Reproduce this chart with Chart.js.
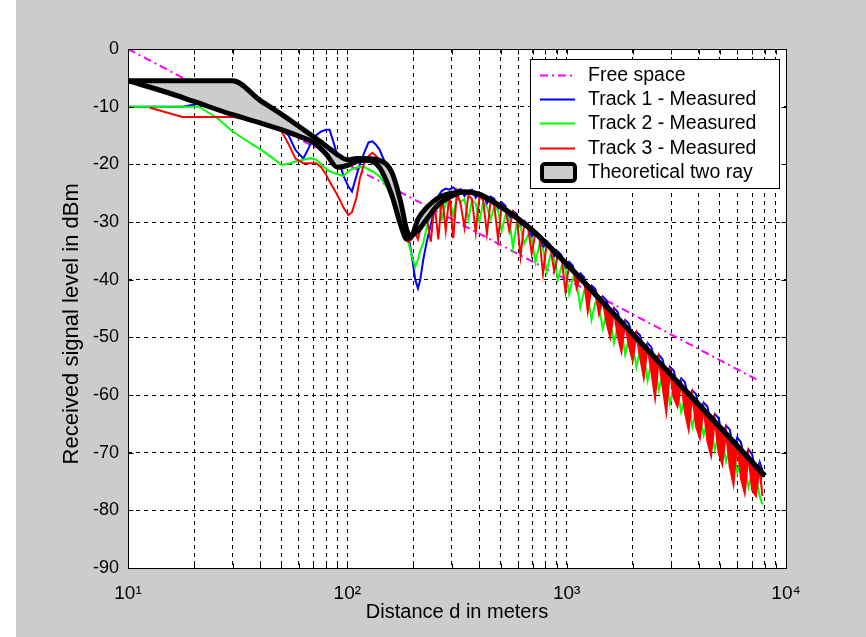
<!DOCTYPE html>
<html>
<head>
<meta charset="utf-8">
<script src="https://cdn.jsdelivr.net/npm/chart.js@4.4.1/dist/chart.umd.min.js"></script>
<style>
    html, body { margin: 0; padding: 0; background: #fff; }
    #wrap { position: absolute; left: 16px; top: 0; width: 850px; height: 637px; background: #cccccc; }
</style>
</head>
<body>
<div id="wrap"><canvas id="myChart" width="850" height="637"></canvas></div>
<script>
// axis ticks
const xTickValues = [10, 20, 30, 40, 50, 60, 70, 80, 90,
    100, 200, 300, 400, 500, 600, 700, 800, 900,
    1000, 2000, 3000, 4000, 5000, 6000, 7000, 8000, 9000, 10000];
const decadeValues = [10, 100, 1000, 10000];
const decadeLabels = ['10\u00b9', '10\u00b2', '10\u00b3', '10\u2074'];
const yTickValues = [0, -10, -20, -30, -40, -50, -60, -70, -80, -90];

// free space
const freeDist = [10, 7600];
const freeLevel = [0, -57.6];

// theoretical two ray (upper / lower edge of the band)
const theoryDist = [10, 15, 20, 30, 40, 50, 60, 70, 80, 90, 100, 110, 120, 140, 160, 175, 187, 195,
    210, 230, 260, 300, 340, 400, 500, 700, 1000, 1500, 2000, 3000, 5000, 8000];
const theoryUpper = [-5.5, -5.5, -5.5, -5.5, -8.9, -11.3, -13.4, -15.2, -16.8, -18.3, -19.2, -19.0, -19.0, -19.3, -21.5, -26.5, -31.5, -32.5,
    -29.5, -27.5, -25.8, -25.0, -24.8, -25.2, -27.3, -31.5, -37.3, -44.4, -49.4, -56.6, -65.6, -74.0];
const theoryLower = [-5.5, -7.5, -9.1, -11.4, -12.8, -14.0, -15.1, -16.2, -18.2, -20.5, -20.2, -19.5, -19.3, -20.5, -25.5, -30.5, -33.0, -32.5,
    -31.5, -29.5, -27.0, -25.5, -24.8, -25.2, -27.3, -31.5, -37.3, -44.4, -49.4, -56.6, -65.6, -74.0];

// measured tracks, short range (10 - 240 m)
const nearDist = [10, 12.6, 15, 17.7, 21, 25.6, 30, 35, 40.5, 46,
    50, 54, 58, 63, 68, 72, 76, 80, 83, 87,
    92, 96, 101, 105, 110, 114, 120, 125, 130, 135,
    140, 146, 152, 160, 170, 180, 190, 197, 204, 210,
    215, 222, 230, 240];
const track1Near = [-10, -10, -10, -10, -9.5, -10.5, -11.4, -12.1, -12.8, -13.5,
    -14, -15, -17.5, -19, -16.5, -15, -14.3, -14, -14, -16.5,
    -19.7, -22, -23.8, -24.7, -22, -20, -17.8, -16.2, -16, -16.6,
    -17.4, -19, -20.5, -22.3, -25.2, -28.5, -32.5, -36, -40, -41.5,
    -40, -36.5, -33.5, -30.5];
const track2Near = [-10, -10, -10, -10, -10, -12, -14.3, -16, -17.5, -19,
    -20.1, -19.9, -19.5, -19.2, -18.9, -19.2, -20, -20.8, -21.2, -21.5,
    -21.8, -22, -21.2, -20.8, -20.6, -20.4, -20.5, -20.9, -21.2, -21.6,
    -22.1, -23, -24, -25.3, -26.8, -29.5, -33.5, -36, -37.8, -36.5,
    -35, -33.6, -31, -28.5];
const track3Near = [null, -10.2, -11, -11.8, -11.8, -11.8, -11.8, -12.1, -12.8, -13.5,
    -14.2, -16.5, -19, -19.8, -19.8, -19.8, -20.5, -21.8, -23, -24.3,
    -26, -27.5, -28.8, -28.3, -25.8, -22.5, -19.5, -18.6, -18, -18.5,
    -19.2, -20.8, -22, -24, -27.3, -30.5, -33.4, -33, -31.8, -33,
    -31.3, -29.8, -29, -33.4];

// measured tracks 1 and 2, long range (240 m - 7.8 km)
const farDist = [240, 250, 260, 270, 281, 292, 304, 316, 329, 342, 356,
    370, 385, 400, 416, 433, 450, 468, 487, 506, 526,
    547, 569, 592, 616, 641, 667, 693, 721, 750, 780,
    811, 843, 877, 912, 949, 987, 1026, 1067, 1110, 1154,
    1200, 1248, 1298, 1350, 1404, 1460, 1519, 1580, 1643, 1709,
    1777, 1848, 1922, 1999, 2079, 2162, 2248, 2338, 2432, 2529,
    2630, 2735, 2845, 2958, 3077, 3200, 3328, 3461, 3599, 3743,
    3893, 4049, 4211, 4379, 4554, 4736, 4926, 5123, 5328, 5541,
    5762, 5993, 6233, 6482, 6741, 7011, 7291, 7583, 7800];
const track1Far = [-30.5, -27.5, -25.5, -24.6, -24.2, -24.4, -24.0, -24.5, -24.3, -25.5, -24.6,
    -24.4, -25.8, -24.9, -25.2, -26.8, -25.6, -26.0, -27.8, -26.6, -27.2,
    -29.5, -28.1, -28.6, -30.8, -29.8, -30.4, -32.6, -31.6, -32.2, -34.5,
    -33.3, -34.0, -36.0, -35.1, -35.8, -37.8, -36.9, -37.6, -39.8, -38.9,
    -39.6, -42.0, -41.0, -41.6, -43.8, -42.9, -43.6, -46.0, -44.9, -45.6,
    -48.2, -47.0, -47.6, -50.2, -49.0, -49.7, -52.3, -51.0, -51.7, -54.0,
    -53.0, -53.8, -56.5, -55.1, -55.8, -58.5, -57.1, -57.8, -60.6, -59.2,
    -59.9, -62.8, -61.3, -62.0, -65.0, -63.3, -64.0, -67.2, -65.3, -66.0,
    -69.5, -67.4, -68.2, -71.5, -69.4, -70.3, -73.8, -71.6, -73.0];
const track2Far = [-28.5, -28.0, -26.5, -29.5, -26.8, -26.0, -28.8, -25.8, -26.5, -26.0, -29.6,
    -26.2, -26.8, -30.0, -26.6, -27.4, -29.5, -27.3, -28.0, -31.5, -28.8,
    -29.4, -34.5, -30.2, -30.8, -33.8, -32.2, -32.9, -37.0, -34.0, -34.6,
    -38.6, -35.8, -36.4, -40.0, -37.6, -38.2, -42.5, -39.8, -40.6, -44.8,
    -42.0, -42.6, -47.0, -44.0, -44.6, -48.5, -46.0, -46.8, -51.0, -48.0,
    -48.8, -53.0, -50.2, -51.0, -55.2, -52.2, -53.0, -57.5, -54.3, -55.0,
    -59.2, -56.4, -57.2, -61.5, -58.5, -59.2, -63.0, -60.6, -61.4, -65.5,
    -62.7, -63.5, -67.0, -64.8, -65.6, -69.5, -67.0, -67.8, -71.5, -69.0,
    -69.8, -73.5, -71.2, -72.0, -76.0, -73.4, -74.2, -77.5, -79.0];

// measured track 3, mid range (240 m - 1 km) and long range (1 km - 7.8 km)
const midDist = [240, 250, 260, 270, 281, 292, 304, 316, 329, 342, 356,
    370, 385, 400, 416, 433, 450, 468, 487, 506, 526,
    547, 569, 592, 616, 641, 667, 693, 721, 750, 780,
    811, 843, 877, 912, 949, 987, 1026];
const track3Mid = [-33.4, -27.0, -33.0, -25.4, -31.5, -25.2, -32.8, -24.8, -27.0, -31.0, -25.4,
    -26.0, -31.8, -25.6, -26.2, -32.0, -26.4, -27.2, -33.0, -27.0, -27.8,
    -31.5, -28.2, -29.0, -36.0, -30.2, -31.0, -35.5, -31.8, -32.6, -39.0,
    -33.6, -34.4, -38.5, -35.8, -36.4, -42.0, -37.4];
const longDist = [1026, 1067, 1110, 1154,
    1200, 1248, 1298, 1350, 1404, 1460, 1519, 1580, 1643, 1709,
    1777, 1848, 1922, 1999, 2079, 2162, 2248, 2338, 2432, 2529,
    2630, 2735, 2845, 2958, 3077, 3200, 3328, 3461, 3599, 3743,
    3893, 4049, 4211, 4379, 4554, 4736, 4926, 5123, 5328, 5541,
    5762, 5993, 6233, 6482, 6741, 7011, 7291, 7583, 7800];
const track3Long = [-37.4, -38.0, -41.5, -39.4,
    -40.0, -45.5, -41.4, -42.2, -46.0, -43.5, -47.5, -50.0, -45.5, -49.8,
    -52.5, -47.6, -51.5, -54.0, -49.6, -53.5, -57.0, -51.7, -56.0, -60.5,
    -53.8, -58.5, -63.0, -55.9, -60.5, -62.0, -58.0, -63.0, -66.0, -60.1,
    -65.5, -67.5, -62.2, -68.0, -70.5, -64.3, -70.0, -72.0, -66.4, -72.5,
    -75.5, -68.5, -74.5, -77.0, -70.6, -76.5, -77.5, -72.7, -77.5];

const FONT = "'Liberation Sans', Arial, Helvetica, sans-serif";

function toPoints(xs, ys) {
    return xs.map(function (x, i) { return { x: x, y: ys[i] }; });
}

// white axes box, frame, inner tick marks and the boxed legend
const matlabFrame = {
    id: 'matlabFrame',
    beforeDraw: function (chart) {
        const ctx = chart.ctx, a = chart.chartArea;
        ctx.save();
        ctx.fillStyle = '#fff';
        ctx.fillRect(a.left, a.top, a.right - a.left, a.bottom - a.top);
        ctx.restore();
    },
    afterDatasetsDraw: function (chart) {
        const ctx = chart.ctx, a = chart.chartArea;
        const l = Math.round(a.left) + 0.5, r = Math.round(a.right) + 0.5;
        const t = Math.round(a.top) + 0.5, b = Math.round(a.bottom) + 0.5;
        ctx.save();
        ctx.strokeStyle = '#000';
        ctx.lineWidth = 1;
        ctx.beginPath();
        xTickValues.forEach(function (v) {
            const px = Math.round(chart.scales.x.getPixelForValue(v)) + 0.5;
            ctx.moveTo(px, t); ctx.lineTo(px, t + 5);
            ctx.moveTo(px, b); ctx.lineTo(px, b - 5);
        });
        yTickValues.forEach(function (v) {
            const py = Math.round(chart.scales.y.getPixelForValue(v)) + 0.5;
            ctx.moveTo(l, py); ctx.lineTo(l + 5, py);
            ctx.moveTo(r, py); ctx.lineTo(r - 5, py);
        });
        ctx.stroke();
        ctx.strokeRect(l, t, r - l, b - t);
        ctx.restore();
    },
    afterDraw: function (chart) {
        const ctx = chart.ctx, a = chart.chartArea;
        const boxW = 249, boxH = 129;
        const bx = Math.round(a.right) - 7 - boxW, by = Math.round(a.top) + 10;
        ctx.save();
        ctx.fillStyle = '#fff';
        ctx.fillRect(bx, by, boxW, boxH);
        ctx.strokeStyle = '#000';
        ctx.lineWidth = 1;
        ctx.strokeRect(bx + 0.5, by + 0.5, boxW, boxH);
        ctx.font = '19.5px ' + FONT;
        ctx.textBaseline = 'middle';
        [9, 7, 5, 2, 0].forEach(function (di, i) {
            const ds = chart.data.datasets[di];
            const y = Math.round(by + 16 + i * 24.2);
            if (di === 0) {
                ctx.setLineDash([]);
                ctx.fillStyle = '#cccccc';
                ctx.strokeStyle = '#000';
                ctx.lineWidth = 4;
                ctx.beginPath();
                ctx.roundRect(bx + 12, y - 8, 33, 17, 3);
                ctx.fill();
                ctx.stroke();
            } else {
                ctx.strokeStyle = ds.borderColor;
                ctx.lineWidth = 2;
                ctx.setLineDash(ds.borderDash || []);
                ctx.beginPath();
                ctx.moveTo(bx + 10, y + 0.5);
                ctx.lineTo(bx + 45, y + 0.5);
                ctx.stroke();
            }
            ctx.fillStyle = '#000';
            ctx.fillText(ds.label, bx + 58, y + 1);
        });
        ctx.restore();
    }
};

const ctx = document.getElementById('myChart').getContext('2d');
Chart.defaults.font.family = FONT;
Chart.defaults.color = '#000';

function track(label, color, xs, ys) {
    return {
        label: label,
        data: toPoints(xs, ys),
        borderColor: color,
        borderWidth: 2,
        pointRadius: 0,
        fill: false
    };
}

// the dense red spikes beyond 1 km merge into a solid band under the two ray curve
const track3LongSet = track('Track 3 - Measured', '#ff0000', longDist, track3Long);
track3LongSet.fill = 0;
track3LongSet.backgroundColor = '#ff0000';

window.myChart = new Chart(ctx, {
    type: 'line',
    data: {
        datasets: [
            {
                label: 'Theoretical two ray',
                data: toPoints(theoryDist, theoryUpper),
                borderColor: '#000',
                borderWidth: 5,
                cubicInterpolationMode: 'monotone',
                pointRadius: 0,
                fill: false
            },
            {
                label: 'Theoretical two ray',
                data: toPoints(theoryDist, theoryLower),
                borderColor: '#000',
                borderWidth: 5,
                cubicInterpolationMode: 'monotone',
                backgroundColor: '#cccccc',
                pointRadius: 0,
                fill: 0
            },
            track3LongSet,
            track('Track 3 - Measured', '#ff0000', midDist, track3Mid),
            track('Track 3 - Measured', '#ff0000', nearDist, track3Near),
            track('Track 2 - Measured', '#00ff00', farDist, track2Far),
            track('Track 2 - Measured', '#00ff00', nearDist, track2Near),
            track('Track 1 - Measured', '#0000ff', farDist, track1Far),
            track('Track 1 - Measured', '#0000ff', nearDist, track1Near),
            {
                label: 'Free space',
                data: toPoints(freeDist, freeLevel),
                borderColor: '#ff00ff',
                borderWidth: 2,
                borderDash: [8, 4, 2, 4],
                pointRadius: 0,
                fill: false
            }
        ]
    },
    options: {
        responsive: false,
        animation: false,
        layout: { padding: { top: 49, right: 80, bottom: 0, left: 0 } },
        plugins: {
            legend: { display: false },
            tooltip: { enabled: false }
        },
        scales: {
            x: {
                type: 'logarithmic',
                min: 10,
                max: 10000,
                afterBuildTicks: function (scale) {
                    scale.ticks = xTickValues.map(function (v) { return { value: v }; });
                },
                afterFit: function (scale) { scale.height = 69; },
                grid: { color: '#000', lineWidth: 1, drawTicks: false },
                border: { display: false, dash: [4, 4] },
                ticks: {
                    autoSkip: false,
                    maxRotation: 0,
                    padding: 14,
                    color: '#000',
                    font: { size: 19 },
                    callback: function (v) {
                        const k = decadeValues.indexOf(v);
                        return k >= 0 ? decadeLabels[k] : '';
                    }
                },
                title: {
                    display: true,
                    text: 'Distance d in meters',
                    color: '#000',
                    font: { size: 20 },
                    padding: { top: 0, bottom: 13 }
                }
            },
            y: {
                type: 'linear',
                min: -90,
                max: 0,
                afterBuildTicks: function (scale) {
                    scale.ticks = yTickValues.map(function (v) { return { value: v }; });
                },
                afterFit: function (scale) { scale.width = 112; },
                grid: { color: '#000', lineWidth: 1, drawTicks: false },
                border: { display: false, dash: [4, 4] },
                ticks: {
                    padding: 9,
                    color: '#000',
                    font: { size: 18 },
                    callback: function (v) { return String(v); }
                },
                title: {
                    display: true,
                    // trailing spaces push the label down the way MATLAB placed it
                    text: 'Received signal level in dBm     ',
                    color: '#000',
                    font: { size: 22 },
                    padding: { top: 43, bottom: 0 }
                }
            }
        }
    },
    plugins: [matlabFrame]
});
</script>
</body>
</html>
